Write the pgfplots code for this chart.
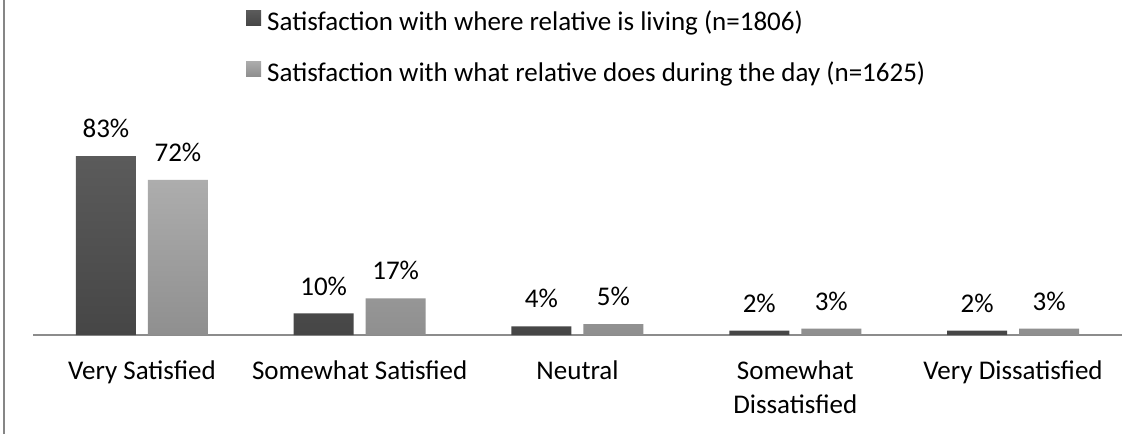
\documentclass[border=0pt]{standalone}
\usepackage{fontspec}
\setmainfont{Carlito}
\usepackage{pgfplots}
\pgfplotsset{compat=1.18}
\definecolor{darktop}{HTML}{5B5B5B}
\definecolor{darkbot}{HTML}{464646}
\definecolor{lighttop}{HTML}{ADADAD}
\definecolor{lightbot}{HTML}{8F8F8F}
\definecolor{framegray}{HTML}{868686}
\definecolor{axisgray}{HTML}{8C8C8C}
\begin{document}
\begin{tikzpicture}[x=1pt,y=1pt]
\useasboundingbox (0,0) rectangle (1143,434);
\fill[white] (0,0) rectangle (1143,434);
\draw[framegray, line width=2.5pt] (4,0) -- (4,434);
\begin{axis}[
  at={(33pt,99pt)}, anchor=south west,
  scale only axis, width=1089pt, height=215.5pt,
  xmin=-0.5, xmax=4.5, ymin=0, ymax=100,
  axis x line*=bottom, axis y line=none,
  x axis line style={draw=axisgray, line width=1.3pt},
  font=\fontsize{27}{34}\selectfont,
  /pgf/number format/assume math mode=true,
  xtick={0,1,2,3,4},
  xticklabels={Very Satisfied, Somewhat Satisfied, Neutral, {Somewhat\\Dissatisfied}, Very Dissatisfied},
  major tick length=0pt,
  xticklabel style={align=center, inner sep=0pt, anchor=north, yshift=-26pt},
  ytick=\empty,
  ybar, bar width=60pt,
  nodes near coords={\pgfmathprintnumber\pgfplotspointmeta\%},
  every node near coord/.append style={inner sep=0pt, anchor=south, yshift=18pt, text=black},
  legend style={at={(0.1956,1.508)}, anchor=north west, draw=none, fill=none,
    inner sep=0pt, row sep=25pt, column sep=6pt,
    nodes={inner sep=0pt, text height=18pt, text depth=6pt},
    cells={anchor=west}, font=\fontsize{27}{34}\selectfont},
  legend image code/.code={\path[#1, draw=none] (0pt,-1pt) rectangle (15pt,14pt);},
  clip=false,
]
\addplot[bar shift=-36pt, draw=none, top color=darktop, bottom color=darkbot]
  coordinates {(0,83) (1,10) (2,4) (3,2) (4,2)};
\addplot[bar shift=36pt, draw=none, top color=lighttop, bottom color=lightbot]
  coordinates {(0,72) (1,17) (2,5) (3,3) (4,3)};
\legend{Satisfaction with where relative is living (n=1806), Satisfaction with what relative does during the day (n=1625)}
\end{axis}
\end{tikzpicture}
\end{document}
